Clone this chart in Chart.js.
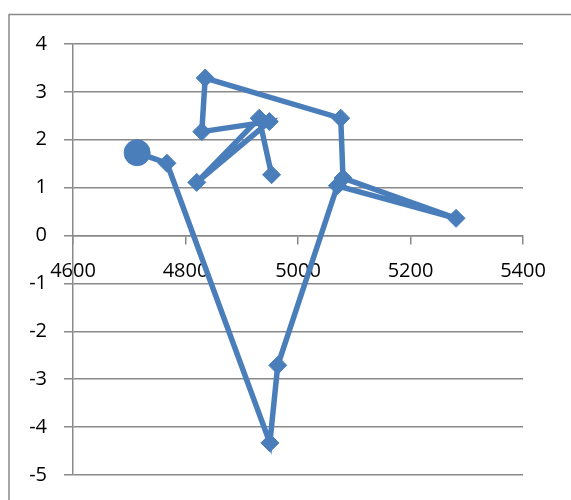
<!DOCTYPE html>
<html>
<head>
<meta charset="utf-8">
<script src="https://cdn.jsdelivr.net/npm/chart.js@4/dist/chart.umd.min.js"></script>
<style>
  html, body { margin: 0; padding: 0; background: #fff; }
  #wrap { width: 571px; height: 500px; position: relative; overflow: hidden; }
</style>
</head>
<body>
<div id="wrap"><canvas id="chart" width="571" height="504"></canvas></div>
<script>
// path of points, in drawing order
const xValues = [4714, 4767, 4950, 4964, 5070, 5281, 5080, 5076, 4835, 4829, 4949, 4820, 4931, 4953];
const yValues = [1.73, 1.51, -4.33, -2.71, 1.04, 0.36, 1.20, 2.45, 3.29, 2.17, 2.38, 1.11, 2.45, 1.27];
const xTicks = [4600, 4800, 5000, 5200, 5400];
const yTicks = [-5, -4, -3, -2, -1, 0, 1, 2, 3, 4];

const blue = '#4a7ebb';
const gray = '#898989';

const points = xValues.map((x, i) => ({ x: x, y: yValues[i] }));

// outer frame like the spreadsheet chart box
const framePlugin = {
    id: 'frame',
    beforeDraw(chart) {
        const ctx = chart.ctx;
        ctx.save();
        ctx.strokeStyle = gray;
        ctx.lineWidth = 1.5;
        ctx.beginPath();
        ctx.moveTo(9, 600);
        ctx.lineTo(9, 14.5);
        ctx.lineTo(700, 14.5);
        ctx.stroke();
        ctx.restore();
    }
};

new Chart(document.getElementById('chart'), {
    type: 'scatter',
    data: {
        datasets: [{
            data: points,
            showLine: true,
            tension: 0,
            borderColor: blue,
            borderWidth: 5.5,
            backgroundColor: blue,
            pointBackgroundColor: blue,
            pointBorderColor: blue,
            pointBorderWidth: 1,
            pointStyle: ctx => ctx.dataIndex === 0 ? 'circle' : 'rectRot',
            pointRadius: ctx => ctx.dataIndex === 0 ? 13 : 9,
            pointHoverRadius: ctx => ctx.dataIndex === 0 ? 13 : 9
        }]
    },
    options: {
        responsive: false,
        animation: false,
        events: [],
        layout: { padding: { left: 0, top: 44, right: 48, bottom: 21 } },
        plugins: { legend: { display: false }, tooltip: { enabled: false } },
        scales: {
            x: {
                type: 'linear',
                position: { y: 0 },
                min: 4600,
                max: 5400,
                afterBuildTicks: s => { s.ticks = xTicks.map(v => ({ value: v })); },
                afterFit: s => { s.height = 0; },
                grid: { drawOnChartArea: false, drawTicks: true, tickLength: 8, color: gray, lineWidth: 1.5 },
                border: { color: gray, width: 1.5 },
                ticks: {
                    color: '#000',
                    padding: 16,
                    maxRotation: 0,
                    callback: v => String(v),
                    font: { family: 'Open Sans', size: 20 }
                }
            },
            y: {
                type: 'linear',
                min: -5,
                max: 4,
                afterBuildTicks: s => { s.ticks = yTicks.map(v => ({ value: v })); },
                afterFit: s => { s.width = 73; },
                grid: { drawOnChartArea: true, drawTicks: true, tickLength: 9, color: gray, lineWidth: 1.5 },
                border: { color: gray, width: 1.5 },
                ticks: {
                    color: '#000',
                    padding: 17,
                    callback: v => String(v),
                    font: { family: 'Open Sans', size: 20 }
                }
            }
        }
    },
    plugins: [framePlugin]
});
</script>
</body>
</html>
